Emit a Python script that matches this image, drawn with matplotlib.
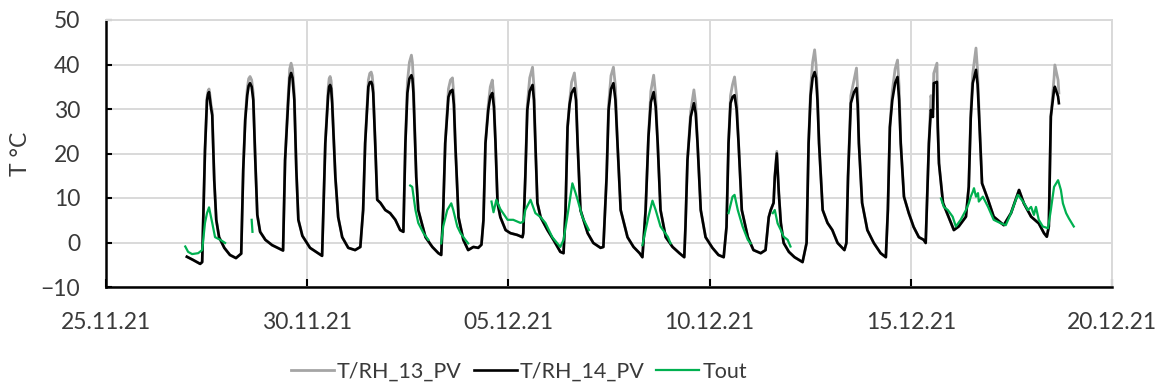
import numpy as np
import pandas as pd
import matplotlib
matplotlib.use("Agg")
import matplotlib.pyplot as plt
import matplotlib.dates as mdates

# ---------------- data ----------------
start_date = "2021-11-25"
xtick_dates = ["2021-11-25", "2021-11-30", "2021-12-05", "2021-12-10", "2021-12-15", "2021-12-20"]
yticks = [-10, 0, 10, 20, 30, 40, 50]
series_names = ["T/RH_13_PV", "T/RH_14_PV", "Tout"]

# time in days since 25.11.21 (shared by T/RH_13_PV and T/RH_14_PV)
t_pv = [
    2.01, 2.16, 2.34, 2.39,
    2.46, 2.51, 2.535, 2.56, 2.585, 2.61, 2.64,
    2.69, 2.74, 2.81, 2.94, 3.08, 3.23, 3.36,
    3.41, 3.46, 3.51, 3.545, 3.58, 3.62, 3.66, 3.71,
    3.76, 3.83, 3.96, 4.13, 4.33, 4.40,
    4.45, 4.53, 4.565, 4.60, 4.635, 4.68, 4.73,
    4.78, 4.88, 5.07, 5.27, 5.37,
    5.45, 5.52, 5.545, 5.57, 5.595, 5.62, 5.70,
    5.77, 5.87, 6.02, 6.19, 6.32, 6.39,
    6.44, 6.52, 6.555, 6.59, 6.615, 6.64, 6.69,
    6.74, 6.82, 6.94, 7.06, 7.19, 7.31, 7.39,
    7.44, 7.49, 7.54, 7.59, 7.615, 7.64, 7.71,
    7.76, 7.94, 8.11, 8.26, 8.33, 8.38,
    8.43, 8.51, 8.56, 8.61, 8.645, 8.68,
    8.76, 8.88, 9.00, 9.13, 9.25, 9.33, 9.38,
    9.43, 9.50, 9.55, 9.60, 9.64, 9.68,
    9.73, 9.80, 9.93, 10.05, 10.22, 10.35, 10.37,
    10.42, 10.47, 10.53, 10.60, 10.635, 10.67,
    10.72, 10.80, 10.97, 11.12, 11.29, 11.37, 11.42,
    11.47, 11.52, 11.57, 11.64, 11.68, 11.72,
    11.79, 11.97, 12.11, 12.29, 12.36,
    12.44, 12.49, 12.55, 12.61, 12.66, 12.71,
    12.79, 12.96, 13.11, 13.26, 13.33, 13.41,
    13.48, 13.54, 13.61, 13.66, 13.71,
    13.78, 13.91, 14.08, 14.25, 14.37, 14.40,
    14.45, 14.53, 14.61, 14.655, 14.70,
    14.78, 14.90, 15.07, 15.22, 15.35, 15.42,
    15.47, 15.52, 15.57, 15.62, 15.67, 15.72,
    15.80, 15.95, 16.09, 16.27, 16.39, 16.47, 16.52, 16.59, 16.62,
    16.67, 16.72,
    16.77, 16.84, 16.97, 17.11, 17.31, 17.41,
    17.46, 17.51, 17.56, 17.61, 17.645, 17.68, 17.72,
    17.81, 17.93, 18.05, 18.18, 18.35, 18.40,
    18.44, 18.51, 18.59, 18.65, 18.68, 18.71,
    18.79, 18.92, 19.08, 19.25, 19.38, 19.43,
    19.48, 19.54, 19.61, 19.67, 19.71, 19.75,
    19.83, 19.95, 20.07, 20.20, 20.32, 20.37,
    20.45, 20.50, 20.55, 20.57, 20.65, 20.67, 20.70,
    20.80, 20.87, 21.07, 21.19, 21.37, 21.44,
    21.49, 21.54, 21.62, 21.66, 21.69, 21.77,
    21.92, 22.06, 22.31, 22.49, 22.69, 22.81, 22.99, 23.18, 23.31, 23.38, 23.43,
    23.48, 23.56, 23.58, 23.66, 23.68,
]

t_rh14 = [
    -3.2, -3.9, -4.8, -4.4,
    20.8, 32.0, 33.3, 33.8, 32.0, 30.2, 28.6,
    14.0, 5.1, 1.2, -1.2, -2.8, -3.5, -2.5,
    16.3, 27.5, 33.1, 35.2, 35.8, 35.0, 32.0, 18.5,
    6.2, 2.4, 0.6, -0.6, -1.5, -1.8,
    18.5, 32.0, 37.0, 38.1, 37.0, 32.0, 16.3,
    5.1, 1.5, -1.2, -2.4, -3.0,
    22.3, 33.0, 35.0, 35.4, 34.6, 31.3, 14.7,
    5.7, 1.2, -1.2, -1.7, -1.0, 7.3,
    22.3, 35.0, 36.0, 36.1, 35.5, 33.6, 22.3,
    9.6, 8.9, 7.3, 6.6, 5.1, 2.8, 2.4,
    22.3, 33.6, 36.8, 37.6, 36.8, 33.6, 14.7,
    7.3, 1.2, -1.0, -2.4, -2.8, 7.3,
    22.3, 32.7, 34.0, 34.3, 31.0, 22.3,
    5.7, 0.6, -1.7, -1.0, -1.2, -0.5, 5.0,
    22.3, 29.8, 32.8, 33.6, 30.5, 22.3,
    8.9, 5.7, 2.8, 2.1, 1.7, 1.2, 2.1,
    14.7, 29.8, 34.0, 35.4, 32.0, 22.3,
    8.9, 5.7, 2.8, 0.6, -2.1, -2.4, 7.3,
    25.9, 31.0, 33.6, 34.7, 32.0, 22.3,
    7.3, 2.1, -0.1, -1.2, -1.0,
    14.7, 29.8, 34.5, 35.8, 32.0, 22.3,
    7.3, 1.2, -1.0, -2.4, -3.3, 7.3,
    23.7, 31.5, 33.8, 30.5, 22.3,
    7.3, 1.2, -1.0, -2.4, -3.3, 3.5,
    18.5, 28.2, 31.3, 29.0, 22.3,
    7.3, 1.2, -1.2, -2.8, -3.3, 3.5,
    22.3, 31.3, 32.7, 33.1, 30.0, 22.3,
    7.3, 1.2, -1.7, -2.4, -1.7, 5.7, 7.3, 8.9, 14.7,
    20.0, 11.1,
    4.4, -0.1, -2.1, -3.3, -4.4, -0.1,
    22.3, 33.0, 37.0, 38.3, 37.0, 32.0, 22.3,
    7.3, 4.4, 2.8, -0.1, -1.7, -0.1,
    14.7, 31.3, 33.8, 34.7, 31.0, 22.3,
    8.9, 2.8, -0.1, -2.4, -3.3, 7.3,
    25.9, 32.0, 35.8, 37.2, 32.0, 22.3,
    10.3, 6.6, 3.5, 1.2, 0.6, -0.1,
    22.3, 29.8, 28.2, 35.8, 36.1, 25.9, 17.8,
    8.9, 7.3, 2.8, 3.6, 5.8, 12.5,
    28.0, 35.8, 38.8, 35.5, 29.8, 13.3,
    9.6, 5.8, 3.9, 6.6, 11.8, 8.8, 5.8, 4.3, 2.1, 1.3, 3.6,
    28.3, 34.3, 35.0, 32.8, 31.3,
]

t_rh13 = [
    -3.2, -3.9, -4.8, -4.4,
    20.8, 32.5, 34.0, 34.5, 33.0, 31.0, 29.5,
    14.0, 5.1, 1.2, -1.2, -2.8, -3.5, -2.5,
    16.3, 28.0, 34.5, 36.8, 37.3, 36.5, 33.5, 18.5,
    6.2, 2.4, 0.6, -0.6, -1.5, -1.8,
    18.5, 33.5, 39.0, 40.3, 39.0, 33.5, 16.3,
    5.1, 1.5, -1.2, -2.4, -3.0,
    22.3, 34.5, 36.8, 37.3, 36.3, 32.5, 14.7,
    5.7, 1.2, -1.2, -1.7, -1.0, 7.3,
    22.3, 36.5, 38.0, 38.3, 37.5, 35.0, 22.3,
    9.6, 8.9, 7.3, 6.6, 5.1, 2.8, 2.4,
    22.3, 36.0, 40.5, 42.1, 40.5, 36.0, 14.7,
    7.3, 1.2, -1.0, -2.4, -2.8, 7.3,
    22.3, 34.5, 36.5, 37.0, 33.0, 22.3,
    5.7, 0.6, -1.7, -1.0, -1.2, -0.5, 5.0,
    22.3, 31.0, 35.0, 36.5, 32.5, 22.3,
    8.9, 5.7, 2.8, 2.1, 1.7, 1.2, 2.1,
    14.7, 31.0, 37.0, 39.4, 35.0, 22.3,
    8.9, 5.7, 2.8, 0.6, -2.1, -2.4, 7.3,
    25.9, 31.5, 36.0, 38.1, 34.5, 22.3,
    7.3, 2.1, -0.1, -1.2, -1.0,
    14.7, 31.0, 37.5, 39.4, 35.0, 22.3,
    7.3, 1.2, -1.0, -2.4, -3.3, 7.3,
    23.7, 34.0, 37.6, 33.0, 22.3,
    7.3, 1.2, -1.0, -2.4, -3.3, 3.5,
    18.5, 29.5, 34.3, 31.0, 22.3,
    7.3, 1.2, -1.2, -2.8, -3.3, 3.5,
    22.3, 33.0, 35.5, 37.2, 33.0, 22.3,
    7.3, 1.2, -1.7, -2.4, -1.7, 5.7, 7.3, 8.9, 14.7,
    20.5, 11.1,
    4.4, -0.1, -2.1, -3.3, -4.4, -0.1,
    22.3, 34.5, 40.5, 43.3, 40.0, 34.0, 22.3,
    7.3, 4.4, 2.8, -0.1, -1.7, -0.1,
    14.7, 33.0, 36.5, 39.2, 34.0, 22.3,
    8.9, 2.8, -0.1, -2.4, -3.3, 7.3,
    25.9, 34.0, 39.0, 41.0, 35.0, 22.3,
    10.3, 6.6, 3.5, 1.2, 0.6, -0.1,
    22.3, 33.0, 30.0, 38.0, 40.3, 27.0, 17.8,
    8.9, 7.3, 2.8, 3.6, 5.8, 12.5,
    29.0, 38.0, 43.7, 38.5, 31.0, 13.3,
    9.6, 5.8, 3.9, 6.6, 11.8, 8.8, 5.8, 4.3, 2.1, 1.3, 3.6,
    28.3, 37.0, 39.9, 36.5, 33.6,
]

# outdoor temperature (gaps = missing data)
t_out_days = [
    1.97, 2.04, 2.14, 2.29, 2.39, 2.46, 2.51, 2.56, 2.64, 2.71, 2.84, 2.96,
    2.97,
    3.62, 3.64,
    3.65,
    7.56, 7.61, 7.69, 7.76, 7.89, 8.01,
    8.02,
    8.33, 8.38, 8.48, 8.58, 8.63, 8.73, 8.81, 8.93, 9.00,
    9.01,
    9.58, 9.63, 9.70, 9.80, 9.98, 10.12, 10.30, 10.37, 10.42, 10.55, 10.67,
    10.80, 10.92, 11.09, 11.29, 11.37, 11.49, 11.59, 11.67, 11.72, 11.84, 12.00,
    12.01,
    13.33, 13.48, 13.58, 13.66, 13.78, 13.96, 14.03,
    14.04,
    15.47, 15.57, 15.62, 15.70, 15.82, 15.95, 16.02,
    16.03,
    16.57, 16.62, 16.69, 16.77, 16.84, 16.94, 17.01,
    17.02,
    20.75, 20.82, 20.92, 21.04, 21.12, 21.24, 21.37, 21.44, 21.49, 21.54, 21.57,
    21.62, 21.67, 21.69, 21.79, 21.92, 22.06, 22.24, 22.36, 22.49, 22.61, 22.66,
    22.79, 22.91, 22.99, 23.06, 23.11, 23.18, 23.28, 23.41, 23.48, 23.56, 23.66,
    23.73, 23.78, 23.86, 23.93, 24.05,
]
t_out = [
    -0.9, -2.1, -2.6, -2.4, -1.7, 4.4, 6.6, 7.9, 4.4, 1.2, 0.6, -0.1,
    np.nan,
    5.1, 2.4,
    np.nan,
    12.8, 12.5, 7.3, 4.4, 2.1, 0.6,
    np.nan,
    -0.2, 3.6, 7.3, 8.8, 7.3, 3.6, 2.1, 0.6, -0.2,
    np.nan,
    9.2, 6.8, 9.6, 7.5, 5.1, 5.1, 4.4, 4.7, 7.3, 9.6, 6.6,
    5.7, 4.4, 1.2, -1.0, 0.6, 7.3, 13.3, 11.1, 9.6, 5.7, 2.8,
    np.nan,
    -0.6, 5.8, 9.4, 7.3, 3.6, 1.3, -0.2,
    np.nan,
    6.6, 10.3, 10.7, 7.3, 3.6, 0.6, -0.2,
    np.nan,
    6.6, 7.3, 4.3, 2.8, 1.3, 0.6, -0.9,
    np.nan,
    9.9, 8.0, 7.3, 5.8, 3.6, 5.1, 7.3, 8.8, 10.3, 11.4, 12.2,
    10.3, 11.1, 9.2, 10.3, 8.0, 5.1, 4.3, 3.9, 6.6, 9.6, 10.7,
    9.2, 7.3, 8.0, 6.2, 8.0, 5.1, 3.6, 3.2, 7.3, 12.5, 14.0,
    11.8, 8.8, 6.6, 5.4, 3.6,
]

# ---------------- plot ----------------
plt.rcParams['font.family'] = ['Lato', 'DejaVu Sans']
text_color = '#3a3a3a'
grid_color = '#d9d9d9'

base = pd.Timestamp(start_date)
x_pv = base + pd.to_timedelta(t_pv, unit='D')
x_out = base + pd.to_timedelta(t_out_days, unit='D')

fig = plt.figure(figsize=(11.66, 3.92), dpi=100)
ax = fig.add_axes([106/1166, 1-287/392, (1112-106)/1166, (287-20)/392])

l13, = ax.plot(x_pv, t_rh13, color='#a5a5a5', lw=2.0, solid_joinstyle='round', label=series_names[0], zorder=3)
l14, = ax.plot(x_pv, t_rh14, color='#000000', lw=1.9, solid_joinstyle='round', label=series_names[1], zorder=4)
lout, = ax.plot(x_out, t_out, color='#00b050', lw=1.6, solid_joinstyle='round', label=series_names[2], zorder=5)

xt = pd.to_datetime(xtick_dates)
ax.set_xlim(xt[0], xt[-1])
ax.set_ylim(yticks[0], yticks[-1])
ax.set_xticks(xt)
ax.xaxis.set_major_formatter(mdates.DateFormatter('%d.%m.%y'))
ax.set_yticks(yticks)

ax.grid(True, color=grid_color, lw=1.4, zorder=0)
ax.set_axisbelow(True)
for s in ['top', 'right']:
    ax.spines[s].set_color(grid_color)
    ax.spines[s].set_linewidth(1.4)
for s in ['left', 'bottom']:
    ax.spines[s].set_color('black')
    ax.spines[s].set_linewidth(1.8)

ax.tick_params(axis='x', direction='in', length=6, width=1.5, color='black',
               pad=18, labelsize=16.5, labelcolor=text_color)
ax.tick_params(axis='y', direction='in', length=4, width=1.5, color='black',
               pad=18.5, labelsize=16.5, labelcolor=text_color)

ax.set_ylabel('T °C', fontsize=16.5, color=text_color)
ax.yaxis.set_label_coords(-0.075, 0.5)

fig.legend(handles=[l13, l14, lout], loc='center', bbox_to_anchor=(519/1166, 1-372/392),
           ncol=3, frameon=False, fontsize=15.5, handlelength=2.0, handletextpad=0.15,
           columnspacing=0.55, labelcolor=text_color)

fig.savefig('out.png', dpi=100)
